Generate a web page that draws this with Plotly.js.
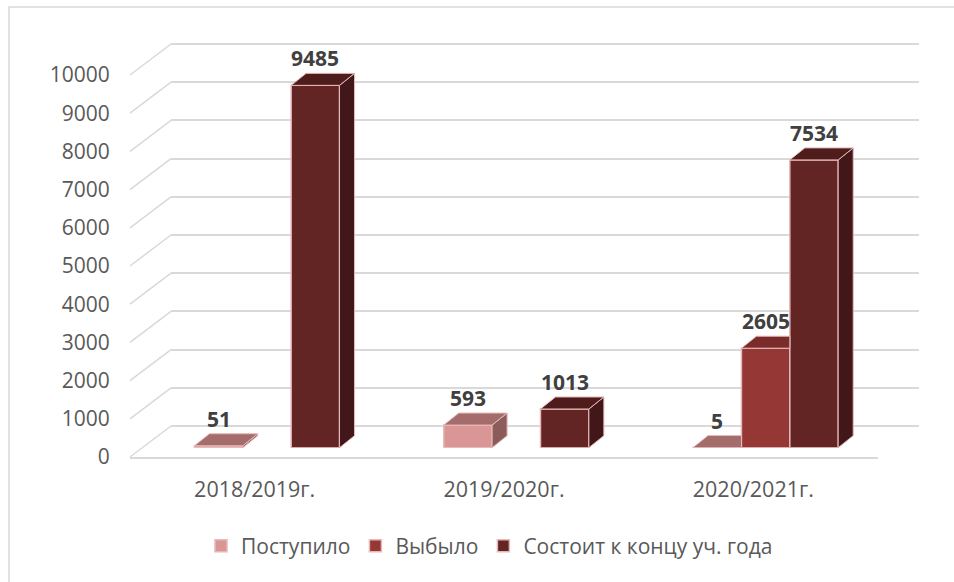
<!DOCTYPE html>
<html>
<head>
<meta charset="utf-8">
<script src="https://cdn.plot.ly/plotly-3.0.1.min.js"></script>
<style>
  html, body { margin: 0; padding: 0; background: #fff; }
  #chart { width: 954px; height: 582px; }
</style>
</head>
<body>
<div id="chart"></div>
<script>
// ===== Data =====
const categories = ["2018/2019г.", "2019/2020г.", "2020/2021г."];
const seriesNames = ["Поступило", "Выбыло", "Состоит к концу уч. года"];
const postupilo = [51, 593, 5];
const vybylo = [null, null, 2605];
const sostoit = [9485, 1013, 7534];
const yTicks = [0, 1000, 2000, 3000, 4000, 5000, 6000, 7000, 8000, 9000, 10000];
const yTickLabels = ["0", "1000", "2000", "3000", "4000", "5000", "6000", "7000", "8000", "9000", "10000"];

// --- Styles ---
const frontColors = ["#D99694", "#953735", "#632523"];
const topColors = ["#A46C6B", "#7A2C2A", "#4E1D1B"];
const sideColors = ["#8C5C5B", "#5E2220", "#42171A"];
const edgeColor = "#E6B9B8";
const gridColor = "#D9D9D9";
const textColor = "#595959";
const font = "'Open Sans', 'Noto Sans', sans-serif";

// --- Geometry (pixels of the 954x582 frame) ---
const W = 954, H = 582;
const px = (x) => x / W;
const py = (y) => 1 - y / H;
const pxPerUnit = 382 / 10000;           // vertical scale
const front = { x0: 130, x1: 878, y0: 457 };
const back = { x0: 171, x1: 919, y0: 426 };
const barPlane = { x0: 142.3, x1: 890.3, y0: 447.7 };
const catPx = (barPlane.x1 - barPlane.x0) / categories.length;
const groupWidth = 0.582;
const w = groupWidth / 3;
const depthX = 15 / catPx;               // bar depth, in x data units
const depthY = 12 / pxPerUnit;           // bar depth, in y data units

const series = [postupilo, vybylo, sostoit];
const idx = categories.map((_, i) => i);
const slotOffset = (k) => -groupWidth / 2 + k * w;

// empty traces so the wall and front-plane subplots get drawn
const traces = [
  { type: "scatter", x: [null], y: [null], xaxis: "x", yaxis: "y", showlegend: false, hoverinfo: "skip" },
  { type: "scatter", x: [null], y: [null], xaxis: "x2", yaxis: "y2", showlegend: false, hoverinfo: "skip" },
];

// --- Front faces (bars) ---
series.forEach((vals, k) => {
  traces.push({
    type: "bar",
    name: seriesNames[k],
    x: idx,
    y: vals,
    width: w,
    offset: slotOffset(k),
    xaxis: "x3",
    yaxis: "y3",
    marker: { color: frontColors[k], line: { color: edgeColor, width: 1.5 } },
    hoverinfo: "skip",
  });
});

// --- Top and side faces ---
function face(xs, ys, color) {
  return {
    type: "scatter",
    mode: "lines",
    x: xs,
    y: ys,
    fill: "toself",
    fillcolor: color,
    line: { color: edgeColor, width: 1 },
    xaxis: "x3",
    yaxis: "y3",
    showlegend: false,
    hoverinfo: "skip",
  };
}

const annotations = [];
idx.forEach((i) => {
  series.forEach((vals, k) => {
    const v = vals[i];
    if (v == null) return;
    const x0 = i + slotOffset(k);
    const x1 = x0 + w;
    const next = k < 2 ? series[k + 1][i] : null;

    // side face, hidden where the next bar stands in front of it
    if (next == null) {
      traces.push(face([x1, x1 + depthX, x1 + depthX, x1, x1], [0, depthY, v + depthY, v, 0], sideColors[k]));
    } else if (next < v) {
      traces.push(face([x1, x1 + depthX, x1 + depthX, x1, x1], [next, next, v + depthY, v, next], sideColors[k]));
    }

    // top face, clipped by a taller neighbour
    if (next != null && next >= v) {
      traces.push(face([x0, x1, x1, x0 + depthX, x0], [v, v, v + depthY, v + depthY, v], topColors[k]));
    } else {
      traces.push(face([x0, x1, x1 + depthX, x0 + depthX, x0], [v, v, v + depthY, v + depthY, v], topColors[k]));
    }

    annotations.push({
      xref: "x3",
      yref: "y3",
      x: x0 + w / 2,
      y: v,
      yanchor: "bottom",
      yshift: 11,
      showarrow: false,
      text: String(v),
      font: { family: font, size: 21, color: "#404040", weight: "bold" },
    });
  });
});

// --- Left edge of the floor/wall: depth lines for each tick ---
const shapes = yTicks.map((t) => ({
  type: "line",
  xref: "paper",
  yref: "paper",
  x0: px(front.x0),
  y0: py(front.y0 - t * pxPerUnit),
  x1: px(back.x0),
  y1: py(back.y0 - t * pxPerUnit),
  line: { color: gridColor, width: 1.5 },
}));
// chart frame
shapes.push({
  type: "rect",
  xref: "paper",
  yref: "paper",
  x0: px(9),
  y0: -0.05,
  x1: 1.05,
  y1: py(7),
  line: { color: gridColor, width: 1.5 },
});

const pad = 500 * pxPerUnit;
const layout = {
  width: W,
  height: H,
  margin: { l: 0, r: 0, t: 0, b: 0 },
  paper_bgcolor: "#fff",
  plot_bgcolor: "rgba(0,0,0,0)",
  font: { family: font, color: textColor, size: 21 },
  barmode: "overlay",
  showlegend: true,
  // back wall (gridlines)
  xaxis: {
    domain: [px(back.x0), px(back.x1)],
    range: [0, 1],
    showticklabels: false,
    showgrid: false,
    zeroline: false,
    showline: false,
    ticks: "",
    anchor: "y",
  },
  yaxis: {
    domain: [py(back.y0 + pad), py(back.y0 - 10000 * pxPerUnit - pad)],
    range: [-500, 10500],
    tickvals: yTicks,
    showticklabels: false,
    ticks: "",
    showgrid: true,
    gridcolor: gridColor,
    gridwidth: 2,
    zeroline: false,
    showline: false,
    anchor: "x",
  },
  // front plane (labels, floor edge)
  xaxis2: {
    domain: [px(front.x0), px(front.x1)],
    range: [-0.5, 2.5],
    tickvals: idx,
    ticktext: categories,
    ticks: "outside",
    ticklen: 12,
    tickcolor: "rgba(0,0,0,0)",
    tickfont: { size: 21.5 },
    showgrid: false,
    zeroline: false,
    showline: true,
    linecolor: gridColor,
    linewidth: 2,
    anchor: "y2",
  },
  yaxis2: {
    domain: [py(front.y0), py(front.y0 - 10000 * pxPerUnit)],
    range: [0, 10000],
    tickvals: yTicks,
    ticktext: yTickLabels,
    ticks: "outside",
    ticklen: 15,
    tickcolor: "rgba(0,0,0,0)",
    tickfont: { size: 21 },
    showgrid: false,
    zeroline: false,
    showline: false,
    anchor: "x2",
  },
  // bar plane
  xaxis3: {
    domain: [px(barPlane.x0), px(barPlane.x1)],
    range: [-0.5, 2.5],
    visible: false,
    anchor: "y3",
  },
  yaxis3: {
    domain: [py(barPlane.y0), py(barPlane.y0 - 10000 * pxPerUnit)],
    range: [0, 10000],
    visible: false,
    anchor: "x3",
  },
  legend: {
    orientation: "h",
    x: px(201),
    xanchor: "left",
    y: py(546),
    yanchor: "middle",
    font: { family: font, size: 21, color: textColor },
    bgcolor: "rgba(0,0,0,0)",
  },
  shapes: shapes,
  annotations: annotations,
};

Plotly.newPlot("chart", traces, layout, { staticPlot: true });
</script>
</body>
</html>
